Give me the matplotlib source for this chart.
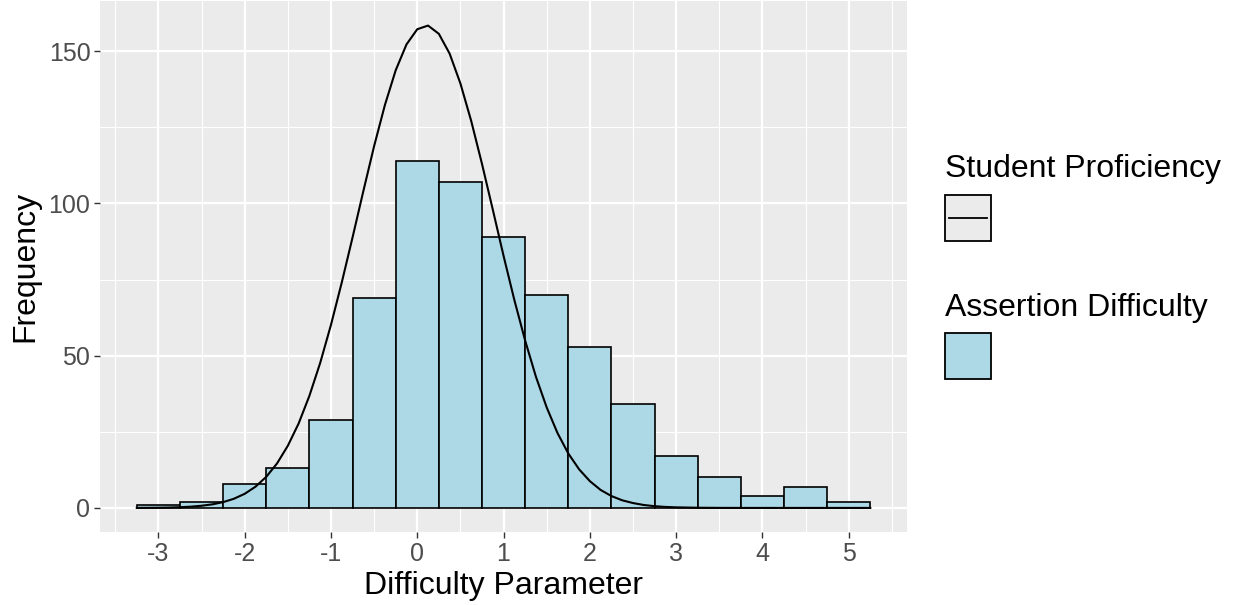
# histogram of assertion difficulty with student proficiency curve overlaid
import matplotlib.pyplot as plt
from matplotlib.patches import Rectangle
from matplotlib.lines import Line2D

plt.rcParams['font.family'] = ['Liberation Sans', 'DejaVu Sans']

# bins (centres, width 0.5) and counts
bin_centers = [-3.0, -2.5, -2.0, -1.5, -1.0, -0.5, 0.0, 0.5, 1.0, 1.5,
               2.0, 2.5, 3.0, 3.5, 4.0, 4.5, 5.0]
bin_counts = [1, 2, 8, 13, 29, 69, 114, 107, 89, 70, 53, 34, 17, 10, 4, 7, 2]
bin_width = 0.5

# student proficiency curve
curve_x = [-3.25, -3.125, -3.0, -2.875, -2.75, -2.625, -2.5, -2.375, -2.25, -2.125,
           -2.0, -1.875, -1.75, -1.625, -1.5, -1.375, -1.25, -1.125, -1.0, -0.875,
           -0.75, -0.625, -0.5, -0.375, -0.25, -0.125, 0.0, 0.125, 0.25, 0.375,
           0.5, 0.625, 0.75, 0.875, 1.0, 1.125, 1.25, 1.375, 1.5, 1.625,
           1.75, 1.875, 2.0, 2.125, 2.25, 2.375, 2.5, 2.625, 2.75, 2.875,
           3.0, 3.25, 3.5, 3.75, 4.0, 4.5, 5.0, 5.25]
curve_y = [0.02, 0.04, 0.07, 0.13, 0.24, 0.41, 0.71, 1.17, 1.90, 3.00,
           4.63, 6.96, 10.2, 14.6, 20.4, 27.7, 36.8, 47.6, 60.1, 74.0,
           88.8, 104.0, 118.8, 132.3, 143.7, 152.2, 157.2, 158.4, 155.7, 149.2,
           139.4, 127.1, 113.0, 98.0, 82.8, 68.3, 55.0, 43.1, 33.0, 24.6,
           17.9, 12.7, 8.8, 5.9, 3.9, 2.5, 1.6, 0.96, 0.57, 0.33,
           0.19, 0.06, 0.015, 0.0, 0.0, 0.0, 0.0, 0.0]

x_ticks = [-3, -2, -1, 0, 1, 2, 3, 4, 5]
y_ticks = [0, 50, 100, 150]

fig = plt.figure(figsize=(12.36, 6.05), dpi=100)
ax = fig.add_axes([0.081, 0.1207, 0.6528, 0.8773])
ax.set_facecolor('#EBEBEB')

ax.bar(bin_centers, bin_counts, width=bin_width, color='#ADD8E6',
       edgecolor='black', linewidth=1.2, zorder=2)
ax.plot(curve_x, curve_y, color='black', linewidth=1.5, zorder=3,
        solid_joinstyle='round')

ax.set_xlim(-3.675, 5.675)
ax.set_ylim(-7.9, 166.4)
ax.set_xticks(x_ticks)
ax.set_xticklabels([str(t) for t in x_ticks])
ax.set_yticks(y_ticks)
ax.set_xticks([-3.5, -2.5, -1.5, -0.5, 0.5, 1.5, 2.5, 3.5, 4.5, 5.5], minor=True)
ax.set_yticks([25, 75, 125], minor=True)
ax.grid(which='major', color='white', linewidth=1.6, zorder=0)
ax.grid(which='minor', color='white', linewidth=0.8, zorder=0)
ax.set_axisbelow(True)
for s in ax.spines.values():
    s.set_visible(False)
ax.tick_params(which='major', length=4, width=1.0, color='#333333',
               labelsize=18, labelcolor='#4D4D4D', pad=3)
ax.tick_params(which='minor', length=0)

ax.set_xlabel('Difficulty Parameter', fontsize=23, labelpad=4)
ax.set_ylabel('Frequency', fontsize=23, labelpad=6)

# legend drawn by hand in figure pixels
W, H = 1236, 605
def key_box(x0, y0, face):
    fig.patches.append(Rectangle((x0 / W, 1 - (y0 + 46) / H), 46 / W, 46 / H,
                                 transform=fig.transFigure, facecolor=face,
                                 edgecolor='black', linewidth=1.3))

fig.text(945 / W, 1 - 177 / H, 'Student Proficiency', fontsize=23, va='baseline')
key_box(945, 195, '#EBEBEB')
fig.lines.append(Line2D([949 / W, 987 / W], [1 - 218 / H, 1 - 218 / H],
                        transform=fig.transFigure, color='black', linewidth=1.3))

fig.text(945 / W, 1 - 316 / H, 'Assertion Difficulty', fontsize=23, va='baseline')
key_box(945, 333, '#ADD8E6')

fig.savefig('out.png', dpi=100)
